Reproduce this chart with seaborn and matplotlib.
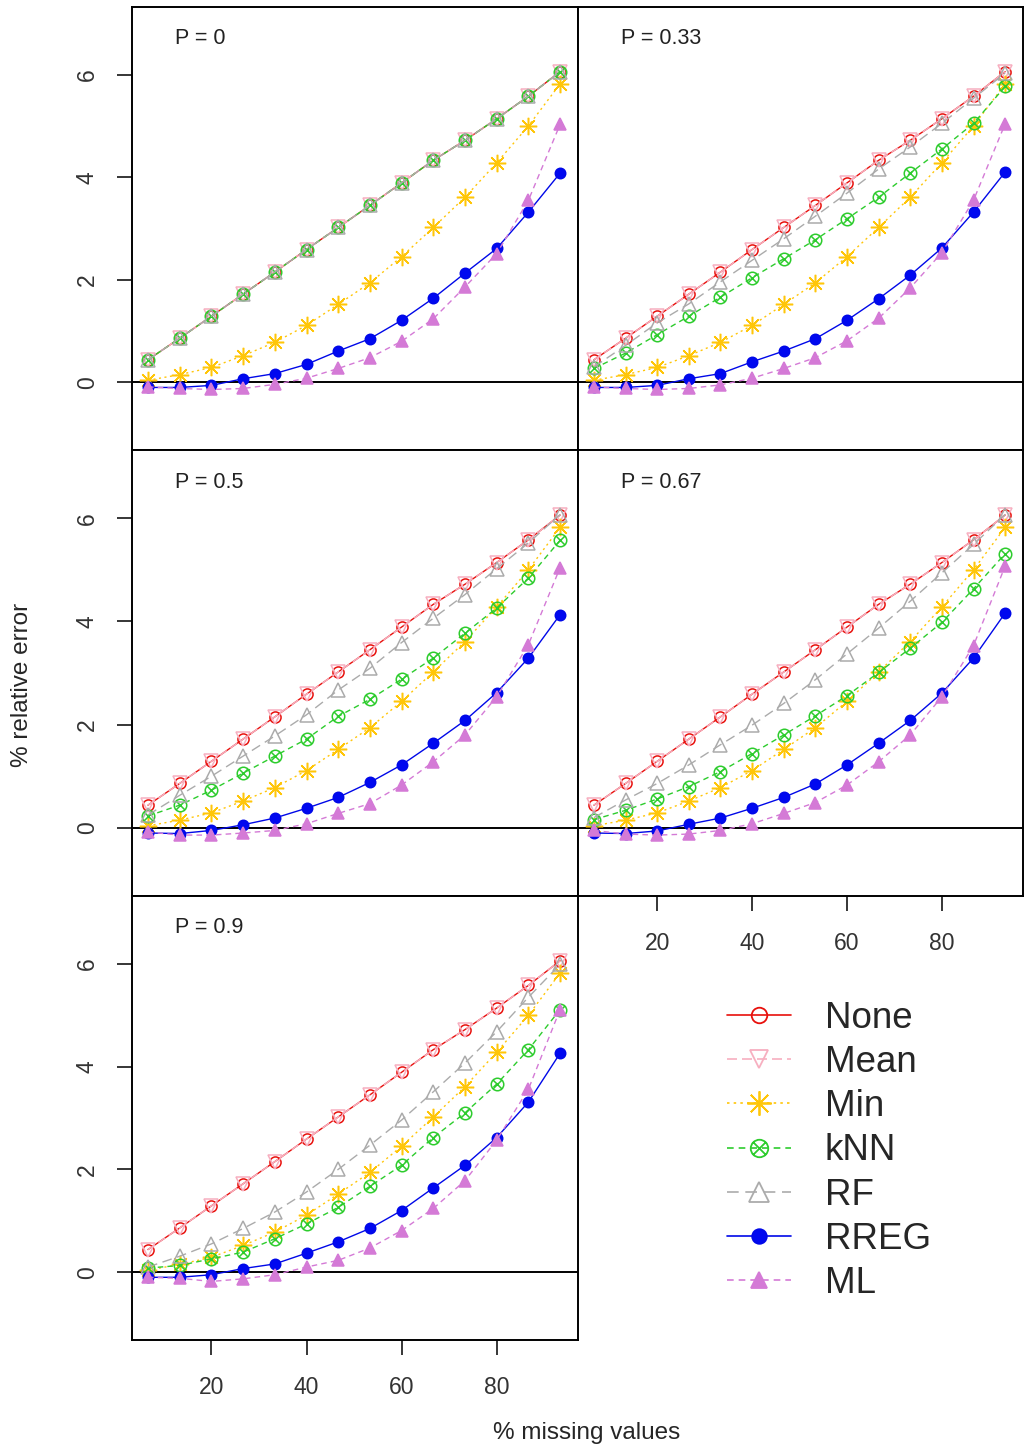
import numpy as np
import pandas as pd
import seaborn as sns
import matplotlib
matplotlib.use("Agg")
import matplotlib.pyplot as plt
from matplotlib.path import Path
from matplotlib.lines import Line2D

# ---- data -------------------------------------------------------------
missing_pct = [6.67, 13.33, 20.0, 26.67, 33.33, 40.0, 46.67, 53.33, 60.0,
               66.67, 73.33, 80.0, 86.67, 93.33]

panel_labels = ["P = 0", "P = 0.33", "P = 0.5", "P = 0.67", "P = 0.9"]
method_names = ["None", "Mean", "Min", "kNN", "RF", "RREG", "ML"]

none_err = [0.44, 0.86, 1.29, 1.72, 2.15, 2.59, 3.02, 3.45, 3.89, 4.33, 4.72, 5.14, 5.58, 6.06]
mean_err = [0.44, 0.86, 1.29, 1.72, 2.15, 2.59, 3.02, 3.45, 3.89, 4.33, 4.72, 5.14, 5.58, 6.06]
min_err = [0.04, 0.15, 0.29, 0.52, 0.78, 1.11, 1.52, 1.94, 2.45, 3.02, 3.61, 4.28, 5.00, 5.82]

knn_p0 = [0.44, 0.86, 1.29, 1.72, 2.15, 2.59, 3.02, 3.45, 3.89, 4.33, 4.72, 5.14, 5.58, 6.06]
knn_p33 = [0.27, 0.57, 0.93, 1.29, 1.66, 2.04, 2.41, 2.78, 3.19, 3.61, 4.08, 4.55, 5.05, 5.77]
knn_p50 = [0.23, 0.44, 0.73, 1.06, 1.39, 1.72, 2.16, 2.49, 2.88, 3.29, 3.77, 4.26, 4.84, 5.57]
knn_p67 = [0.16, 0.34, 0.56, 0.80, 1.09, 1.44, 1.80, 2.17, 2.56, 3.01, 3.48, 3.98, 4.63, 5.31]
knn_p90 = [0.08, 0.13, 0.26, 0.39, 0.65, 0.94, 1.26, 1.67, 2.08, 2.62, 3.10, 3.66, 4.33, 5.11]

rf_p0 = [0.44, 0.86, 1.29, 1.72, 2.15, 2.59, 3.02, 3.45, 3.89, 4.33, 4.72, 5.14, 5.58, 6.06]
rf_p33 = [0.30, 0.72, 1.16, 1.53, 1.96, 2.38, 2.80, 3.24, 3.69, 4.16, 4.59, 5.05, 5.54, 6.03]
rf_p50 = [0.25, 0.63, 1.00, 1.39, 1.78, 2.19, 2.67, 3.09, 3.59, 4.06, 4.52, 5.02, 5.52, 6.07]
rf_p67 = [0.20, 0.54, 0.86, 1.22, 1.61, 1.99, 2.41, 2.87, 3.37, 3.87, 4.39, 4.94, 5.49, 6.07]
rf_p90 = [0.10, 0.31, 0.55, 0.85, 1.17, 1.56, 2.00, 2.47, 2.96, 3.51, 4.07, 4.68, 5.35, 5.99]

rreg_p0 = [-0.10, -0.10, -0.06, 0.07, 0.17, 0.35, 0.61, 0.85, 1.21, 1.64, 2.13, 2.61, 3.32, 4.08]
rreg_p33 = [-0.10, -0.10, -0.06, 0.07, 0.17, 0.40, 0.61, 0.85, 1.21, 1.63, 2.09, 2.62, 3.32, 4.10]
rreg_p50 = [-0.10, -0.11, -0.05, 0.06, 0.19, 0.38, 0.59, 0.88, 1.22, 1.64, 2.08, 2.62, 3.29, 4.13]
rreg_p67 = [-0.10, -0.11, -0.06, 0.07, 0.19, 0.38, 0.59, 0.85, 1.22, 1.64, 2.08, 2.61, 3.29, 4.16]
rreg_p90 = [-0.10, -0.10, -0.05, 0.07, 0.16, 0.37, 0.59, 0.85, 1.20, 1.64, 2.08, 2.62, 3.31, 4.26]

ml_p0 = [-0.09, -0.12, -0.14, -0.12, -0.04, 0.08, 0.27, 0.48, 0.80, 1.24, 1.86, 2.51, 3.55, 5.03]
ml_p33 = [-0.09, -0.12, -0.14, -0.12, -0.05, 0.08, 0.27, 0.48, 0.81, 1.25, 1.84, 2.53, 3.55, 5.04]
ml_p50 = [-0.08, -0.14, -0.14, -0.10, -0.05, 0.08, 0.28, 0.47, 0.83, 1.28, 1.80, 2.54, 3.55, 5.04]
ml_p67 = [-0.05, -0.12, -0.14, -0.12, -0.05, 0.08, 0.28, 0.49, 0.83, 1.28, 1.80, 2.54, 3.53, 5.07]
ml_p90 = [-0.10, -0.12, -0.18, -0.13, -0.05, 0.10, 0.23, 0.47, 0.81, 1.24, 1.78, 2.57, 3.56, 5.11]

x_ticks = [20, 40, 60, 80]
y_ticks = [0, 2, 4, 6]

# ---- long-form table --------------------------------------------------
panel_series = [
    [none_err, mean_err, min_err, knn_p0, rf_p0, rreg_p0, ml_p0],
    [none_err, mean_err, min_err, knn_p33, rf_p33, rreg_p33, ml_p33],
    [none_err, mean_err, min_err, knn_p50, rf_p50, rreg_p50, ml_p50],
    [none_err, mean_err, min_err, knn_p67, rf_p67, rreg_p67, ml_p67],
    [none_err, mean_err, min_err, knn_p90, rf_p90, rreg_p90, ml_p90],
]
rows = []
for label, series in zip(panel_labels, panel_series):
    for name, vals in zip(method_names, series):
        for xv, yv in zip(missing_pct, vals):
            rows.append({"panel": label, "method": name, "missing": xv, "error": yv})
df = pd.DataFrame(rows)

# ---- styles -----------------------------------------------------------
circle_x = Path.make_compound_path(
    Path.unit_circle(),
    Path([(-0.72, -0.72), (0.72, 0.72), (-0.72, 0.72), (0.72, -0.72)],
         [Path.MOVETO, Path.LINETO, Path.MOVETO, Path.LINETO]),
)

styles = {
    "None": dict(color="#E8100C", marker="o", ls="-", mfc="none", ms=8),
    "Mean": dict(color="#F7AFC0", marker="v", ls=(0, (6, 3)), mfc="none", ms=9.5),
    "Min":  dict(color="#FFC60A", marker=(8, 2, 0), ls=(0, (1.5, 2.5)), mfc="none", ms=12.5),
    "kNN":  dict(color="#2DCC2D", marker=circle_x, ls=(0, (4, 3)), mfc="none", ms=9),
    "RF":   dict(color="#ABABAB", marker="^", ls=(0, (7, 4)), mfc="none", ms=10),
    "RREG": dict(color="#0008E8", marker="o", ls="-", mfc="#0008F0", ms=7.5),
    "ML":   dict(color="#D47AD6", marker="^", ls=(0, (4, 3)), mfc="#D47AD6", ms=8),
}

sns.set_style("ticks")
plt.rcParams["font.family"] = ["Liberation Sans", "DejaVu Sans"]

W, H = 1026, 1449
fig = plt.figure(figsize=(W / 100, H / 100), dpi=100)

left_x, mid_x, right_x = 132, 578, 1023
row_edges = [(7, 450), (450, 896), (896, 1340)]
cells = [(0, 0), (0, 1), (1, 0), (1, 1), (2, 0)]

for i, (label, (r, c)) in enumerate(zip(panel_labels, cells)):
    x0 = left_x if c == 0 else mid_x
    x1 = mid_x if c == 0 else right_x
    top, bot = row_edges[r]
    ax = fig.add_axes([x0 / W, 1 - bot / H, (x1 - x0) / W, (bot - top) / H])
    sub = df[df["panel"] == label]
    ax.axhline(0, color="black", lw=1.4, zorder=1)
    for name in method_names:
        st = styles[name]
        d = sub[sub["method"] == name]
        sns.lineplot(data=d, x="missing", y="error", ax=ax, color=st["color"],
                     marker=st["marker"], linestyle=st["ls"], linewidth=1.0,
                     mfc=st["mfc"], mec=st["color"], mew=1.1, markersize=st["ms"],
                     errorbar=None, sort=False, zorder=3)
    ax.set_xlim(3.3, 97.1)
    ax.set_ylim(-1.32, 7.32)
    ax.set_xlabel("")
    ax.set_ylabel("")
    for sp in ax.spines.values():
        sp.set_visible(True)
        sp.set_color("black")
        sp.set_linewidth(1.4)
    ax.text(0.097, 0.928, label, transform=ax.transAxes, fontsize=15.5,
            ha="left", va="center", color="#222222")
    if c == 0:
        ax.set_yticks(y_ticks)
        ax.set_yticklabels([str(v) for v in y_ticks], rotation=90, va="center",
                           fontsize=16.5, color="#333333")
        ax.tick_params(axis="y", length=11, width=1.3, pad=13, direction="out")
    else:
        ax.set_yticks([])
    if i in (3, 4):
        ax.set_xticks(x_ticks)
        ax.set_xticklabels([str(v) for v in x_ticks], fontsize=16.5, color="#333333")
        ax.tick_params(axis="x", length=11, width=1.3, pad=15, direction="out")
    else:
        ax.set_xticks([])

# legend in the free cell
handles = [Line2D([], [], color=styles[n]["color"], marker=styles[n]["marker"],
                  linestyle=styles[n]["ls"], linewidth=1.2,
                  mfc=styles[n]["mfc"], mec=styles[n]["color"], mew=1.3,
                  markersize=styles[n]["ms"] * 1.4)
           for n in method_names]
fig.legend(handles, method_names, loc="center left",
           bbox_to_anchor=(727 / W, 1 - 1151 / H), frameon=False,
           fontsize=26.5, handlelength=1.75, handletextpad=0.9,
           labelspacing=0.25, borderpad=0, borderaxespad=0)

fig.text(22 / W, 1 - 685 / H, "% relative error", rotation=90,
         ha="center", va="center", fontsize=17.5)
fig.text(587 / W, 1 - 1433 / H, "% missing values",
         ha="center", va="center", fontsize=17.5)

fig.savefig("out.png", dpi=100, facecolor="white")
